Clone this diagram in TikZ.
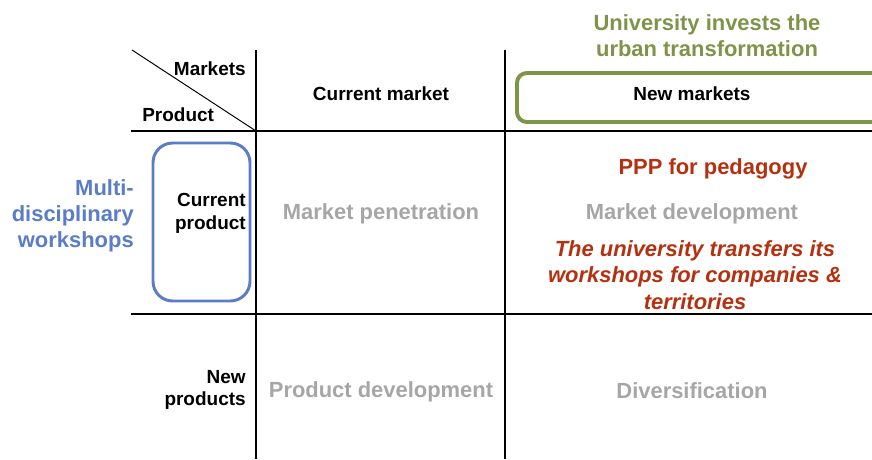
\documentclass[tikz,border=0pt]{standalone}
\usepackage{fontspec}
\setmainfont{Liberation Sans}

\definecolor{oliveline}{RGB}{126,148,72}
\definecolor{blueline}{RGB}{91,124,198}
\definecolor{redtext}{RGB}{181,48,15}
\definecolor{graytext}{RGB}{166,166,166}

\tikzset{
  head/.style={font=\fontsize{13.5}{16}\selectfont\bfseries, inner sep=0pt},
  cell/.style={font=\fontsize{15.6}{18}\selectfont\bfseries, text=graytext, inner sep=0pt},
  note/.style={font=\fontsize{15.6}{18.6}\selectfont\bfseries, inner sep=0pt, align=center}
}

\begin{document}
\begin{tikzpicture}[x=0.025cm,y=-0.025cm]
\useasboundingbox (0,0) rectangle (872,459);
\clip (0,0) rectangle (872,459);

% grid of the matrix
\draw[line width=1pt] (131,131) -- (872,131);
\draw[line width=1pt] (131,314) -- (872,314);
\draw[line width=0.8pt] (256,50) -- (256,459);
\draw[line width=0.8pt] (505,50) -- (505,459);
\draw[line width=0.7pt] (132,50) -- (256,131);

% highlight boxes
\draw[oliveline, line width=2.8pt, rounded corners=7pt] (517,73) rectangle (895,122);
\draw[blueline, line width=2.1pt, rounded corners=14pt] (153,143) rectangle (250,301);

% headers
\node[head, anchor=east] (markets) at (246,69) {Markets};
\node[head, anchor=west] (product) at (142,115) {Product};
\node[head] (curmarket) at (381,94) {Current market};
\node[head] (newmarkets) at (692,94) {New markets};
\node[head, anchor=east, align=right, font=\fontsize{13.5}{16.4}\selectfont\bfseries] (curproduct) at (246,213) {Current\\product};
\node[head, anchor=east, align=right, font=\fontsize{13.5}{15.6}\selectfont\bfseries] (newproducts) at (246,390) {New\\products};

% cells
\node[cell] (penetration) at (381,214) {Market penetration};
\node[cell] (mdevelopment) at (692,214) {Market development};
\node[cell] (pdevelopment) at (381,392) {Product development};
\node[cell] (diversification) at (692,391) {Diversification};

% notes
\node[note, text=oliveline] (invests) at (707,36) {University invests the\\urban transformation};
\node[note, text=blueline, align=right, anchor=east] (workshops) at (134,216) {Multi-\\disciplinary\\workshops};
\node[note, text=redtext] (ppp) at (713,169) {PPP for pedagogy};
\node[note, text=redtext, font=\fontsize{15.6}{18.8}\selectfont\bfseries\itshape] (transfers) at (695,275) {The university transfers its\\workshops for companies \&\\territories};
\end{tikzpicture}
\end{document}
